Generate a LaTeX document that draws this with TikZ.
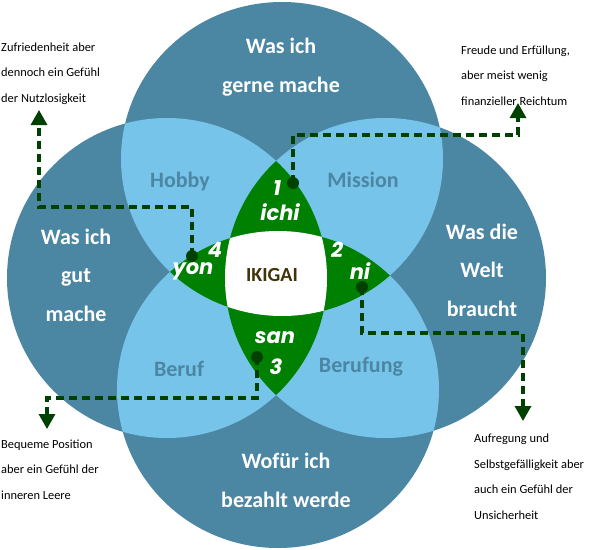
\documentclass[tikz,border=0pt]{standalone}
\usepackage{fontspec}
\setmainfont{Carlito}
\newfontfamily\lensfont{Poppins}
\usetikzlibrary{arrows.meta}
\definecolor{darkc}{RGB}{75,134,162}
\definecolor{lightc}{RGB}{119,196,235}
\definecolor{greenc}{RGB}{0,128,0}
\definecolor{connc}{RGB}{0,64,0}
\definecolor{ikigaic}{RGB}{66,52,8}
\def\topE{(282,159) ellipse [x radius=161pt, y radius=157pt]}
\def\botE{(278,389.5) ellipse [x radius=161pt, y radius=158.5pt]}
\def\leftE{(167,278) ellipse [x radius=160pt, y radius=160pt]}
\def\rightE{(385.5,278) ellipse [x radius=160.5pt, y radius=160pt]}
\begin{document}
\begin{tikzpicture}[x=1pt,y=-1pt,
  big/.style={text=white,font=\bfseries\fontsize{22}{38.5}\selectfont,align=center,anchor=base,inner sep=0},
  region/.style={text=darkc,font=\bfseries\fontsize{22}{26}\selectfont,inner sep=0},
  lens/.style={text=white,font=\lensfont\bfseries\itshape\fontsize{21}{24}\selectfont,inner sep=0},
  note/.style={text=black,font=\fontsize{12.4}{25.5}\selectfont,align=left,anchor=base west,inner sep=0},
  conn/.style={connc,line width=3.2pt,dash pattern=on 8pt off 5pt,-{Triangle[width=16pt,length=15pt]}},
  dot/.style={circle,fill=connc,minimum size=12pt,inner sep=0}
]
\useasboundingbox (0,0) rectangle (589,549);
% circles
\fill[darkc] \topE;
\fill[darkc] \botE;
\fill[darkc] \leftE;
\fill[darkc] \rightE;
% pairwise overlaps
\begin{scope}\clip \topE; \fill[lightc] \leftE; \fill[lightc] \rightE; \end{scope}
\begin{scope}\clip \botE; \fill[lightc] \leftE; \fill[lightc] \rightE; \end{scope}
% triple overlaps
\begin{scope}\clip \leftE; \fill[greenc] \rightE; \end{scope}
\begin{scope}\clip \topE; \fill[greenc] \botE; \end{scope}
% centre
\begin{scope}\clip \topE; \clip \botE; \clip \leftE; \fill[white] \rightE; \end{scope}

% big labels (anchor = baseline of last line)
\node[big] (ltop) at (281,92) {Was ich\\gerne mache};
\node[big] (lleft) at (76,321) {Was ich\\gut\\mache};
\node[big] (lright) at (482,316) {Was die\\Welt\\braucht};
\node[big] (lbot) at (286,507) {Wofür ich\\bezahlt werde};
% region labels
\node[region] (hobby) at (180,182) {Hobby};
\node[region] (mission) at (363,180) {Mission};
\node[region] (beruf) at (179,369) {Beruf};
\node[region] (berufung) at (361,367) {Berufung};
\node[text=ikigaic,font=\bfseries\fontsize{20}{24}\selectfont,inner sep=0] (ikigai) at (272,275) {IKIGAI};
% lens labels
\node[lens] (n1) at (277,188) {1};
\node[lens] (ichi) at (280,212) {ichi};
\node[lens] (n4) at (215,250) {4};
\node[lens] (yon) at (193,271) {yon};
\node[lens] (n2) at (337,250) {2};
\node[lens] (ni) at (360,271) {ni};
\node[lens] (san) at (275,338) {san};
\node[lens] (n3) at (276,367) {3};

% notes (anchor = baseline of last line)
\node[note] (note1) at (1,102) {Zufriedenheit aber\\dennoch ein Gefühl\\der Nutzlosigkeit};
\node[note] (note2) at (461,105) {Freude und Erfüllung,\\aber meist wenig\\finanzieller Reichtum};
\node[note] (note3) at (1,499) {Bequeme Position\\aber ein Gefühl der\\inneren Leere};
\node[note] (note4) at (474,519) {Aufregung und\\Selbstgefälligkeit aber\\auch ein Gefühl der\\Unsicherheit};

% connectors
\node[dot] (d1) at (293,183) {};
\node[dot] (d4) at (192,256) {};
\node[dot] (d2) at (362,287) {};
\node[dot] (d3) at (257,357) {};
\coordinate (c1) at (518,135); \coordinate (t1) at (518,103);
\coordinate (c4) at (39,207);  \coordinate (t4) at (39,110);
\coordinate (c2) at (523,333); \coordinate (t2) at (523,421);
\coordinate (c3) at (47,398);  \coordinate (t3) at (47,429);
\draw[conn] (d1.center) |- (c1) -- (t1);
\draw[conn] (d4.center) |- (c4) -- (t4);
\draw[conn] (d2.center) |- (c2) -- (t2);
\draw[conn] (d3.center) |- (c3) -- (t3);
\end{tikzpicture}
\end{document}
